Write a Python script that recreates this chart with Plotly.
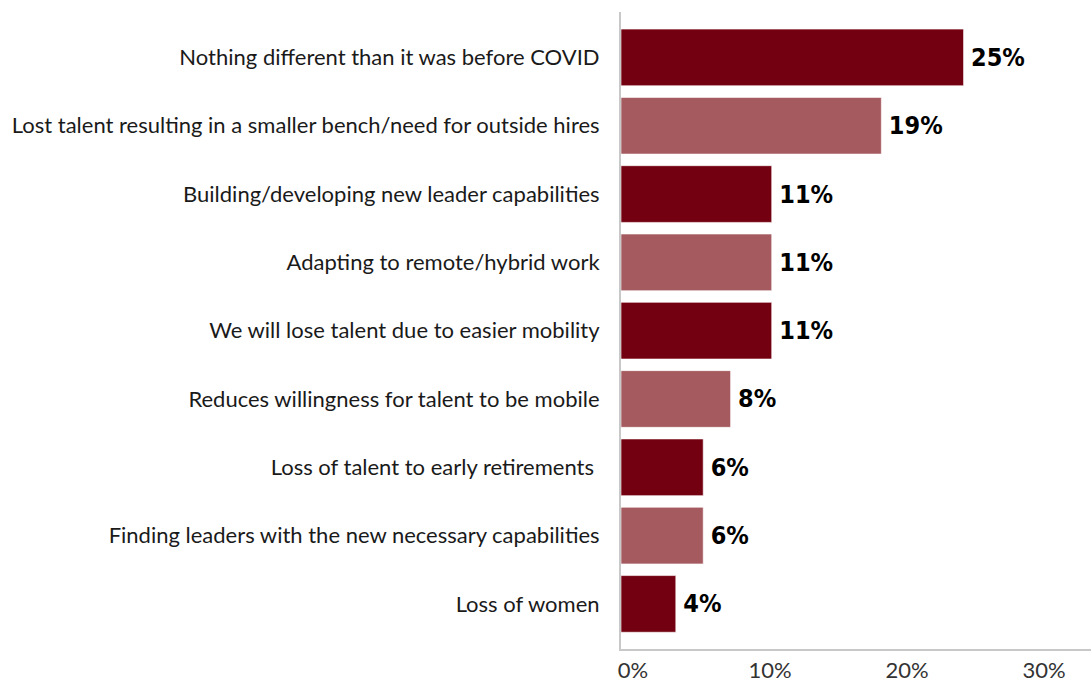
import plotly.graph_objects as go

# Survey responses, top to bottom
categories = [
    "Nothing different than it was before COVID",
    "Lost talent resulting in a smaller bench/need for outside hires",
    "Building/developing new leader capabilities",
    "Adapting to remote/hybrid work",
    "We will lose talent due to easier mobility",
    "Reduces willingness for talent to be mobile",
    "Loss of talent to early retirements ",
    "Finding leaders with the new necessary capabilities",
    "Loss of women",
]
values = [25, 19, 11, 11, 11, 8, 6, 6, 4]
tick_vals = [0, 10, 20, 30]
tick_text = ["0%", "10%", "20%", "30%"]

DARK = "#730010"
LIGHT = "#A55A5F"
bar_colors = [DARK if i % 2 == 0 else LIGHT for i in range(len(values))]

fig = go.Figure(
    go.Bar(
        x=values,
        y=categories,
        orientation="h",
        marker=dict(color=bar_colors, line=dict(color="rgba(255,255,255,0.6)", width=1)),
        text=[f"\u2009{v}%" for v in values],
        textposition="outside",
        textfont=dict(family="DejaVu Sans Condensed, Roboto, sans-serif",
                      size=25, color="#000000", weight="bold"),
        cliponaxis=False,
        width=0.83,
    )
)

fig.update_layout(
    width=1091,
    height=686,
    margin=dict(l=621, r=0, t=12, b=37),
    paper_bgcolor="white",
    plot_bgcolor="white",
    showlegend=False,
    font=dict(family="Lato, sans-serif", color="#1a1a1a"),
)

fig.update_xaxes(
    range=[0, 34.3],
    tickvals=tick_vals,
    ticktext=tick_text,
    showgrid=False,
    zeroline=False,
    showline=True,
    linecolor="#C8C8C8",
    linewidth=2,
    ticks="",
    automargin=False,
    ticklabelshift=12,
    ticklabelstandoff=1,
    tickfont=dict(family="Lato, sans-serif", size=22, color="#333333"),
)

fig.update_yaxes(
    type="category",
    range=[8.66, -0.665],
    showgrid=False,
    zeroline=False,
    showline=True,
    linecolor="#C8C8C8",
    linewidth=2,
    ticks="",
    automargin=False,
    ticklabelstandoff=15,
    tickfont=dict(family="Lato, sans-serif", size=22, color="#1a1a1a"),
)

fig.write_html("out.html")
